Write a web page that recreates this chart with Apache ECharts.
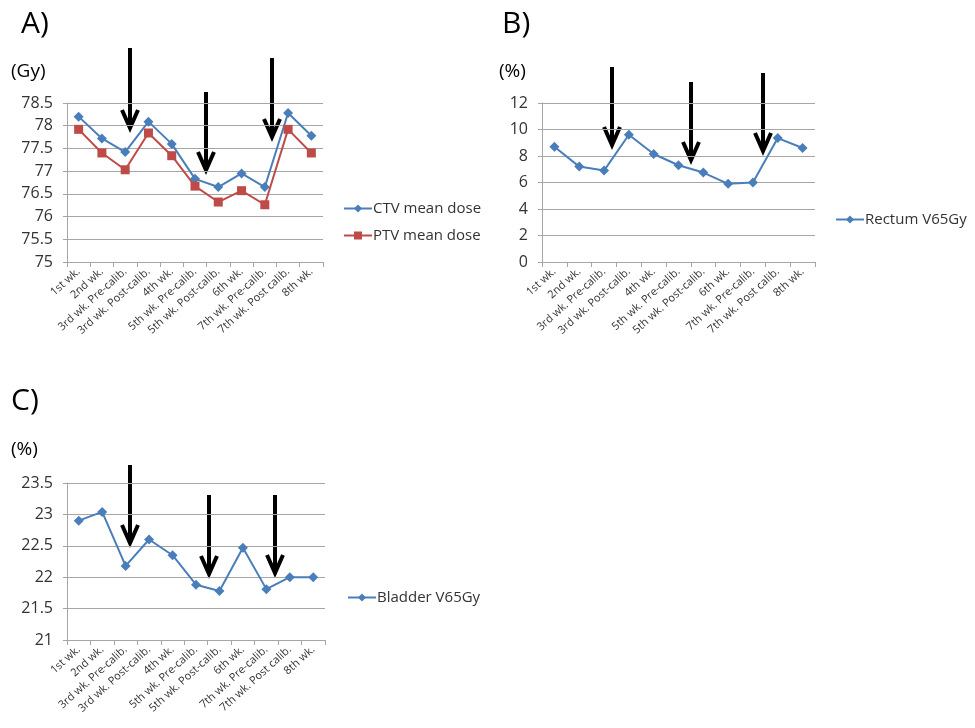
<!DOCTYPE html>
<html>
<head>
<meta charset="utf-8">
<script src="https://cdn.jsdelivr.net/npm/echarts@6/dist/echarts.min.js"></script>
<style>
  html, body { margin: 0; padding: 0; background: #fff; }
  #chart { width: 975px; height: 728px; }
</style>
</head>
<body>
<div id="chart"></div>
<script>
var weeks = ['1st wk.', '2nd wk.', '3rd wk. Pre-calib.', '3rd wk. Post-calib.', '4th wk.',
    '5th wk. Pre-calib.', '5th wk. Post-calib.', '6th wk.', '7th wk. Pre-calib.', '7th wk. Post calib.', '8th wk.'];

var ctvMean   = [78.2, 77.72, 77.42, 78.09, 77.6, 76.83, 76.65, 76.95, 76.65, 78.28, 77.78];
var ptvMean   = [77.92, 77.4, 77.03, 77.84, 77.34, 76.67, 76.32, 76.57, 76.26, 77.92, 77.4];
var rectumV65 = [8.7, 7.2, 6.9, 9.6, 8.15, 7.3, 6.75, 5.9, 6.0, 9.35, 8.6];
var bladderV65 = [22.9, 23.04, 22.18, 22.6, 22.35, 21.88, 21.78, 22.47, 21.81, 22.0, 22.0];

var blue = '#4a7ebb';
var red = '#be4b48';
var txt = '#333333';
var gridCol = '#a6a6a6';
var font = 'Open Sans';

// annotation arrows [x, top, tip] in pixels
var arrows = [
    [130, 48, 128], [206, 92, 170], [272, 58, 137],
    [612, 67, 145], [691, 82, 160], [763, 73, 151],
    [130, 465, 543], [209, 495, 574], [275, 495, 573]
];

function arrow(a) {
    var x = a[0], top = a[1], tip = a[2];
    return {
        type: 'group',
        children: [
            { type: 'line', shape: { x1: x, y1: top, x2: x, y2: tip - 2 },
              style: { stroke: '#000', lineWidth: 4 } },
            { type: 'polyline', shape: { points: [[x - 8, tip - 18], [x, tip], [x + 8, tip - 18]] },
              style: { stroke: '#000', lineWidth: 4, fill: null } }
        ]
    };
}

function xAx(i) {
    return {
        type: 'category', gridIndex: i, data: weeks,
        axisLine: { lineStyle: { color: gridCol } },
        axisTick: { show: true, length: 5, lineStyle: { color: gridCol } },
        axisLabel: { rotate: 42, fontSize: 11, color: txt, fontFamily: font, margin: 8, interval: 0 }
    };
}

function yAx(i, min, max, step) {
    return {
        type: 'value', gridIndex: i, min: min, max: max, interval: step,
        axisLine: { show: true, lineStyle: { color: gridCol } },
        axisTick: { show: true, length: 4, lineStyle: { color: gridCol } },
        splitLine: { lineStyle: { color: gridCol } },
        axisLabel: { fontSize: 16, color: txt, fontFamily: font, margin: 14 }
    };
}

function lineSeries(name, data, i, color, symbol) {
    return {
        name: name, type: 'line', xAxisIndex: i, yAxisIndex: i, data: data,
        symbol: symbol, symbolSize: symbol === 'rect' ? 9 : 10,
        lineStyle: { color: color, width: 2 },
        itemStyle: { color: color },
        animation: false
    };
}

function title(text, x, y, size) {
    return { type: 'text', left: x, top: y,
        style: { text: text, fill: '#000', font: size + 'px "Open Sans"' } };
}

var graphics = [
    title('A)', 21, 9, 30), title('B)', 502, 9, 30), title('C)', 11, 386, 30),
    title('(Gy)', 11, 62, 19), title('(%)', 499, 62, 19), title('(%)', 11, 440, 19)
].concat(arrows.map(arrow));

var legendBase = { orient: 'vertical', itemWidth: 28, itemHeight: 10, itemGap: 12,
    textStyle: { fontSize: 15, color: txt, fontFamily: font, padding: [0, 0, 0, -4] } };

var option = {
    animation: false,
    grid: [
        { left: 67, top: 103, width: 256, height: 159 },
        { left: 542, top: 103, width: 273, height: 159 },
        { left: 67, top: 483, width: 258, height: 157 }
    ],
    xAxis: [xAx(0), xAx(1), xAx(2)],
    yAxis: [yAx(0, 75, 78.5, 0.5), yAx(1, 0, 12, 2), yAx(2, 21, 23.5, 0.5)],
    legend: [
        Object.assign({ left: 338, top: 196, data: ['CTV mean dose', 'PTV mean dose'] }, legendBase),
        Object.assign({ left: 830, top: 207, data: ['Rectum V65Gy'] }, legendBase),
        Object.assign({ left: 342, top: 585, data: ['Bladder V65Gy'] }, legendBase)
    ],
    series: [
        lineSeries('CTV mean dose', ctvMean, 0, blue, 'diamond'),
        lineSeries('PTV mean dose', ptvMean, 0, red, 'rect'),
        lineSeries('Rectum V65Gy', rectumV65, 1, blue, 'diamond'),
        lineSeries('Bladder V65Gy', bladderV65, 2, blue, 'diamond')
    ],
    graphic: graphics
};

var chart = echarts.init(document.getElementById('chart'));
chart.setOption(option);
</script>
</body>
</html>
